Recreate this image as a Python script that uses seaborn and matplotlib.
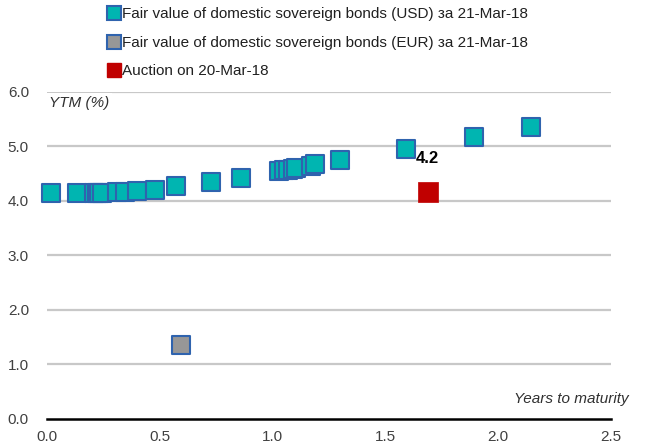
import pandas as pd
import matplotlib
matplotlib.use("Agg")
import matplotlib.pyplot as plt
from matplotlib.lines import Line2D
import seaborn as sns

# Fair value curves and auction point
usd_years = [0.02, 0.135, 0.21, 0.22, 0.23, 0.245, 0.31, 0.345, 0.40, 0.48, 0.57, 0.725,
             0.86, 1.03, 1.05, 1.07, 1.09, 1.105, 1.17, 1.19, 1.30, 1.59, 1.895, 2.145]
usd_ytm = [4.15, 4.14, 4.14, 4.15, 4.15, 4.15, 4.16, 4.17, 4.19, 4.21, 4.27, 4.35,
           4.43, 4.55, 4.56, 4.57, 4.58, 4.61, 4.64, 4.68, 4.75, 4.95, 5.17, 5.35]
eur_years = [0.596]
eur_ytm = [1.35]
auction_years = [1.687]
auction_ytm = [4.17]

labels = ["Fair value of domestic sovereign bonds (USD) за 21-Mar-18",
          "Fair value of domestic sovereign bonds (EUR) за 21-Mar-18",
          "Auction on 20-Mar-18"]
x_ticks = [0.0, 0.5, 1.0, 1.5, 2.0, 2.5]
y_ticks = [0.0, 1.0, 2.0, 3.0, 4.0, 5.0, 6.0]

teal = "#00B5B1"
edge = "#2F63AE"
grey = "#979797"
red = "#C00000"

sns.set_style("white")
plt.rcParams["font.family"] = ["Liberation Sans", "DejaVu Sans"]

usd = pd.DataFrame({"years": usd_years, "ytm": usd_ytm})
eur = pd.DataFrame({"years": eur_years, "ytm": eur_ytm})
auc = pd.DataFrame({"years": auction_years, "ytm": auction_ytm})

fig = plt.figure(figsize=(6.49, 4.41), dpi=100)
ax = fig.add_axes([0.0724, 0.0499, 0.869, 0.7415])

sns.scatterplot(data=usd, x="years", y="ytm", ax=ax, marker="s", s=155,
                color=teal, edgecolor=edge, linewidth=1.5, zorder=3, legend=False)
sns.scatterplot(data=eur, x="years", y="ytm", ax=ax, marker="s", s=155,
                color=grey, edgecolor=edge, linewidth=1.5, zorder=3, legend=False)
sns.scatterplot(data=auc, x="years", y="ytm", ax=ax, marker="s", s=205,
                color=red, edgecolor=red, linewidth=0.5, zorder=3, legend=False)
for coll in ax.collections:
    coll.set_clip_on(False)

ax.annotate(f"{auction_ytm[0]:.1f}", (auction_years[0], auction_ytm[0]),
            xytext=(0, 24), textcoords="offset points", ha="center", va="center",
            fontsize=12, fontweight="bold", color="black")

ax.set_xlim(0, 2.5)
ax.set_ylim(0, 6)
ax.set_xticks(x_ticks)
ax.set_xticklabels([f"{t:.1f}" for t in x_ticks])
ax.set_yticks(y_ticks)
ax.set_yticklabels([f"{t:.1f}" for t in y_ticks])
ax.set_xlabel("")
ax.set_ylabel("")

for t in y_ticks[1:]:
    ax.axhline(t, color="#C8C8C8", linewidth=1.6, zorder=1)

for side in ["top", "right", "left"]:
    ax.spines[side].set_visible(False)
ax.spines["bottom"].set_linewidth(1.8)
ax.spines["bottom"].set_color("black")
ax.spines["bottom"].set_zorder(4)

ax.tick_params(axis="x", direction="out", length=3, width=1.5, color="black",
               pad=5, labelsize=11, labelcolor="#404040")
ax.tick_params(axis="y", length=0, pad=13, labelsize=11, labelcolor="#404040")

ax.text(0.01, 5.8, "YTM (%)", fontsize=11, fontstyle="italic", ha="left", va="center",
        color="#303030", bbox=dict(facecolor="white", edgecolor="none", pad=2), zorder=5)
ax.text(2.58, 0.36, "Years to maturity", fontsize=11, fontstyle="italic", ha="right",
        va="center", color="#303030", clip_on=False)

handles = [
    Line2D([], [], marker="s", linestyle="", markersize=9.5, markerfacecolor=teal,
           markeredgecolor=edge, markeredgewidth=1.5),
    Line2D([], [], marker="s", linestyle="", markersize=9.5, markerfacecolor=grey,
           markeredgecolor=edge, markeredgewidth=1.5),
    Line2D([], [], marker="s", linestyle="", markersize=10, markerfacecolor=red,
           markeredgecolor=red),
]
fig.legend(handles, labels, loc="upper left", bbox_to_anchor=(0.158, 0.997),
           frameon=False, fontsize=11, handlelength=0.7, handletextpad=0.15,
           labelspacing=0.95, borderaxespad=0, labelcolor="#202020")

fig.savefig("out.png", dpi=100)
